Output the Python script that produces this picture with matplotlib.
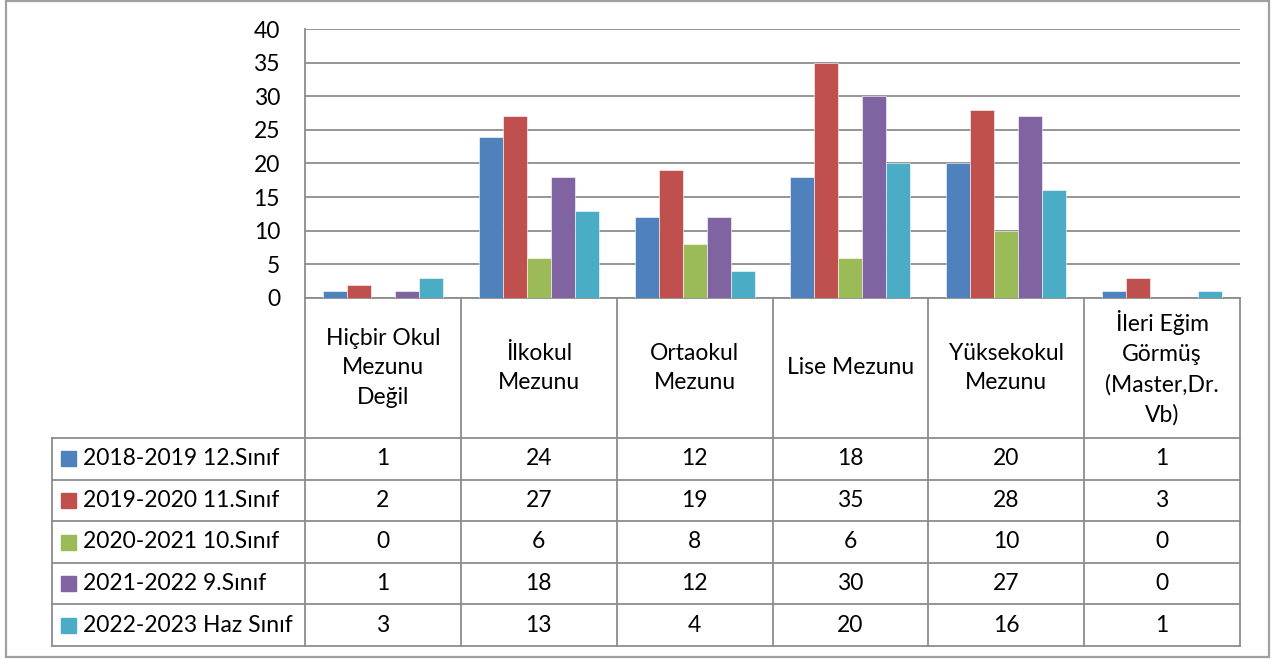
import matplotlib.pyplot as plt
from matplotlib.patches import Rectangle
import numpy as np

plt.rcParams['font.family'] = ['Lato', 'DejaVu Sans']

# data
categories = [
    "Hiçbir Okul\nMezunu\nDeğil",
    "İlkokul\nMezunu",
    "Ortaokul\nMezunu",
    "Lise Mezunu",
    "Yüksekokul\nMezunu",
    "İleri Eğim\nGörmüş\n(Master,Dr.\nVb)",
]
series_names = [
    "2018-2019 12.Sınıf",
    "2019-2020 11.Sınıf",
    "2020-2021 10.Sınıf",
    "2021-2022 9.Sınıf",
    "2022-2023 Haz Sınıf",
]
s2018 = [1, 24, 12, 18, 20, 1]
s2019 = [2, 27, 19, 35, 28, 3]
s2020 = [0, 6, 8, 6, 10, 0]
s2021 = [1, 18, 12, 30, 27, 0]
s2022 = [3, 13, 4, 20, 16, 1]
values = [s2018, s2019, s2020, s2021, s2022]

colors = ['#4F81BD', '#C0504D', '#9BBB59', '#8064A2', '#4BACC6']
line_col = '#8c8c8c'
fs = 16.5

W, H = 1276, 659
fig = plt.figure(figsize=(W / 100, H / 100), dpi=100)


def fx(px):
    return px / W


def fy(py):
    return 1 - py / H


# plot area in pixel terms
left, right, top, base = 305, 1240, 29, 298

ax = fig.add_axes([fx(left), fy(base), fx(right) - fx(left), fy(top) - fy(base)])
x = np.arange(len(categories))
bw = 0.154
for k, vals in enumerate(values):
    ax.bar(x + 0.115 + k * bw, vals, width=bw, align='edge',
           color=colors[k], edgecolor='white', linewidth=0.4, zorder=3)

ax.set_xlim(0, len(categories))
ax.set_ylim(0, 40)
ax.set_yticks(range(0, 41, 5))
ax.set_xticks([])
ax.yaxis.grid(True, color=line_col, linewidth=1.3)
ax.set_axisbelow(True)
for s in ['top', 'right']:
    ax.spines[s].set_visible(False)
for s in ['left', 'bottom']:
    ax.spines[s].set_color(line_col)
    ax.spines[s].set_linewidth(1.3)
ax.tick_params(axis='y', length=0, pad=18, labelsize=fs, labelcolor='black')

# data table below the plot, drawn on an overlay in pixel units
tab = fig.add_axes([0, 0, 1, 1])
tab.set_xlim(0, W)
tab.set_ylim(H, 0)
tab.axis('off')

leg_left = 52
col_edges = np.linspace(left, right, len(categories) + 1)
row_edges = np.linspace(438, 646, len(series_names) + 1)

lk = dict(color=line_col, linewidth=1.3)
for cx in col_edges:
    tab.plot([cx, cx], [base, row_edges[-1]], **lk)
tab.plot([leg_left, leg_left], [row_edges[0], row_edges[-1]], **lk)
for ry in row_edges:
    tab.plot([leg_left, right], [ry, ry], **lk)

# header cells
for i, cat in enumerate(categories):
    cx = (col_edges[i] + col_edges[i + 1]) / 2
    tab.text(cx, (base + row_edges[0]) / 2, cat, ha='center', va='center',
             fontsize=fs, linespacing=1.5)

# rows: legend key + values
for k, name in enumerate(series_names):
    cy = (row_edges[k] + row_edges[k + 1]) / 2
    tab.add_patch(Rectangle((61, cy - 7.5), 15, 15, color=colors[k]))
    tab.text(83, cy, name, ha='left', va='center', fontsize=fs)
    for i, v in enumerate(values[k]):
        cx = (col_edges[i] + col_edges[i + 1]) / 2
        tab.text(cx, cy, str(v), ha='center', va='center', fontsize=fs)

# outer chart border
tab.add_patch(Rectangle((6, 1), 1263, 656, fill=False, edgecolor='#a0a0a0', linewidth=1.6))

fig.savefig('out.png', dpi=100)
